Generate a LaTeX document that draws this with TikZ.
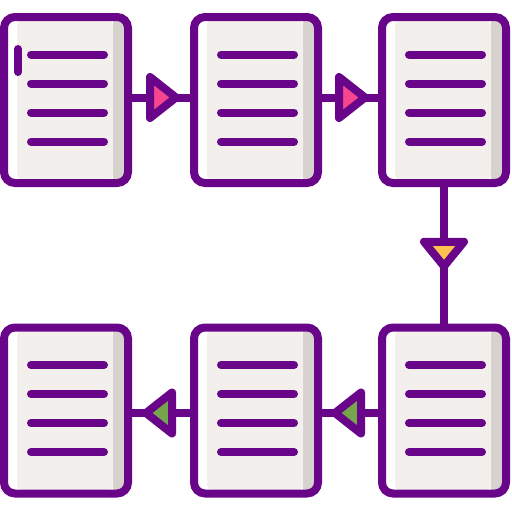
\documentclass[tikz,border=0pt]{standalone}
\usetikzlibrary{calc}
\definecolor{pur}{HTML}{690589}
\definecolor{lightc}{HTML}{F3EFEC}
\definecolor{shadec}{HTML}{D8D2CF}
\definecolor{pinkc}{HTML}{F5468F}
\definecolor{orangec}{HTML}{FFC14F}
\definecolor{greenc}{HTML}{77A54C}
\begin{document}
\begin{tikzpicture}[x=1pt,y=-1pt,
  doc/.style={draw=pur, line width=8pt, fill=white, rounded corners=11pt,
    minimum width=124pt, minimum height=166pt, inner sep=0pt, outer sep=0pt,
    path picture={
      \fill[shadec, sharp corners] ([xshift=-15pt]path picture bounding box.north east) rectangle (path picture bounding box.south east);
      \fill[lightc, rounded corners=4pt] ([xshift=13pt,yshift=-4pt]path picture bounding box.north west) rectangle ([xshift=-15pt,yshift=4pt]path picture bounding box.south east);
    }},
  txtline/.style={draw=pur, line width=8pt, line cap=round},
  conn/.style={draw=pur, line width=8pt},
  tri/.style={draw=pur, line width=8pt, line join=round}]
\useasboundingbox (0,0) rectangle (512,512);
% documents
\node[doc] (d1) at (66,100) {};
\node[doc] (d2) at (256,100) {};
\node[doc] (d3) at (444,100) {};
\node[doc] (d4) at (66,410.5) {};
\node[doc] (d5) at (256,410.5) {};
\node[doc] (d6) at (444,410.5) {};
% text lines
\foreach \n in {d1,d2,d3,d4,d5,d6}{
  \foreach \dy in {-45.5,-16.5,12.5,41.5}{
    \draw[txtline] ($(\n)+(-35,\dy)$) -- ($(\n)+(38,\dy)$);
  }
}
\draw[txtline] ($(d1)+(-48,-51)$) -- ($(d1)+(-48,-28)$);
% connectors
\draw[conn] ([yshift=2.5pt]d1.east) -- ([yshift=2.5pt]d2.west);
\draw[conn] ([yshift=2.5pt]d2.east) -- ([yshift=2.5pt]d3.west);
\draw[conn] (d3.south) -- (d6.north);
\draw[conn] ([yshift=-2.5pt]d6.west) -- ([yshift=-2.5pt]d5.east);
\draw[conn] ([yshift=-2.5pt]d5.west) -- ([yshift=-2.5pt]d4.east);
% arrow heads
\coordinate (m1) at ($(d1.east)!0.5!(d2.west)+(0,-2.5)$);
\coordinate (m2) at ($(d2.east)!0.5!(d3.west)+(0,-2.5)$);
\coordinate (m3) at ($(d3.south)!0.5!(d6.north)$);
\coordinate (m4) at ($(d6.west)!0.5!(d5.east)+(0,2.5)$);
\coordinate (m5) at ($(d5.west)!0.5!(d4.east)+(0,2.5)$);
\draw[tri, fill=pinkc] ($(m1)+(-11,-20.5)$) -- ($(m1)+(-11,20.5)$) -- ($(m1)+(15,0)$) -- cycle;
\draw[tri, fill=pinkc] ($(m2)+(-11,-20.5)$) -- ($(m2)+(-11,20.5)$) -- ($(m2)+(15,0)$) -- cycle;
\draw[tri, fill=orangec] ($(m3)+(-20,-13.5)$) -- ($(m3)+(20,-13.5)$) -- ($(m3)+(0,11)$) -- cycle;
\draw[tri, fill=greenc] ($(m4)+(11,-20.5)$) -- ($(m4)+(11,20.5)$) -- ($(m4)+(-15,0)$) -- cycle;
\draw[tri, fill=greenc] ($(m5)+(11,-20.5)$) -- ($(m5)+(11,20.5)$) -- ($(m5)+(-15,0)$) -- cycle;
\end{tikzpicture}
\end{document}
